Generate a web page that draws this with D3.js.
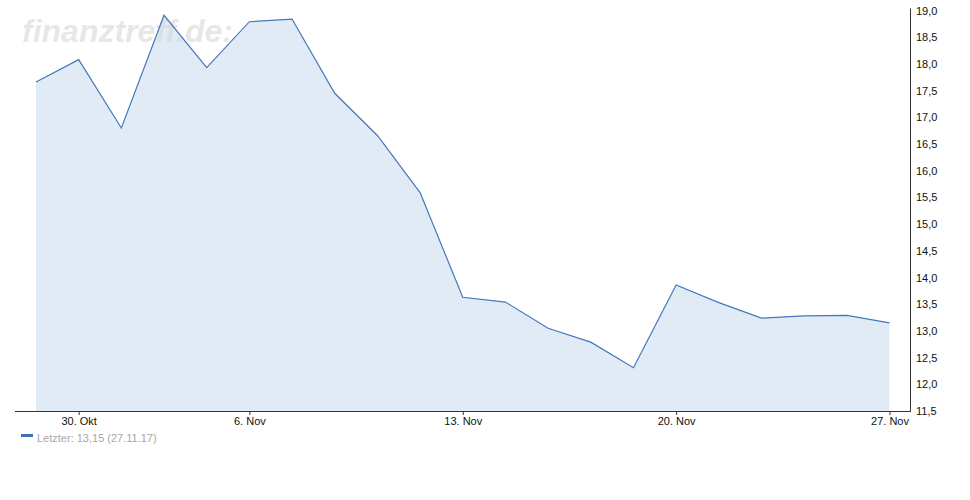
<!DOCTYPE html>
<html>
<head>
<meta charset="utf-8">
<script src="https://cdn.jsdelivr.net/npm/d3@7"></script>
<style>
  html, body { margin: 0; padding: 0; background: #fff; }
  svg { display: block; font-family: "Liberation Sans", Arial, sans-serif; }
</style>
</head>
<body>
<svg id="chart" width="970" height="500"></svg>
<script>
const dates = ["27.10.17","30.10.17","01.11.17","02.11.17","03.11.17","06.11.17","07.11.17","08.11.17","09.11.17","10.11.17",
               "13.11.17","14.11.17","15.11.17","16.11.17","17.11.17","20.11.17","21.11.17","22.11.17","23.11.17","24.11.17","27.11.17"];
const prices = [17.66, 18.08, 16.80, 18.91, 17.93, 18.79, 18.84, 17.45, 16.66, 15.59,
                13.63, 13.54, 13.05, 12.79, 12.31, 13.86, 13.53, 13.24, 13.28, 13.29, 13.15];
const xTickDates = ["30.10.17","06.11.17","13.11.17","20.11.17","27.11.17"];
const xTickLabels = ["30. Okt","6. Nov","13. Nov","20. Nov","27. Nov"];
const yTicks = [11.5, 12.0, 12.5, 13.0, 13.5, 14.0, 14.5, 15.0, 15.5, 16.0, 16.5, 17.0, 17.5, 18.0, 18.5, 19.0];
const legendLabel = "Letzter: 13,15 (27.11.17)";
const watermark = "finanztreff.de:";

const svg = d3.select("#chart");
const plotLeft = 15, plotRight = 910, plotTop = 10.5, plotBottom = 411;

const x = d3.scalePoint().domain(dates).range([36, 889.5]);
const y = d3.scaleLinear().domain([11.5, 19.0]).range([plotBottom, plotTop]);

const data = dates.map((d, i) => ({d, v: prices[i]}));

svg.append("path")
  .datum(data)
  .attr("fill", "#e0ebf6")
  .attr("d", d3.area().x(p => x(p.d)).y0(plotBottom).y1(p => y(p.v)));

// watermark (drawn over the area, under the line)
svg.append("text")
  .attr("x", 22).attr("y", 42)
  .attr("font-size", 32).attr("font-weight", "bold").attr("font-style", "italic")
  .attr("fill", "#d8d8d8").attr("fill-opacity", 0.6)
  .text(watermark);

svg.append("path")
  .datum(data)
  .attr("fill", "none")
  .attr("stroke", "#4478bb")
  .attr("stroke-width", 1.2)
  .attr("stroke-linejoin", "miter")
  .attr("d", d3.line().x(p => x(p.d)).y(p => y(p.v)));

// bottom axis
const xAxis = d3.axisBottom(x)
  .tickValues(xTickDates)
  .tickFormat(d => xTickLabels[xTickDates.indexOf(d)])
  .tickSize(4).tickSizeOuter(0);
const gx = svg.append("g").attr("transform", `translate(0,${plotBottom})`).call(xAxis);
gx.select(".domain").attr("d", `M${plotLeft},0.5H${plotRight}`).attr("stroke", "#333");
gx.selectAll(".tick line").attr("stroke", "#333");
gx.selectAll(".tick text").attr("font-size", 11).attr("fill", "#111").attr("font-family", "Liberation Sans, Arial, sans-serif").attr("dy", "0.6em");

// right axis
const yAxis = d3.axisRight(y)
  .tickValues(yTicks)
  .tickFormat(v => d3.format(".1f")(v).replace(".", ","))
  .tickSize(0).tickSizeOuter(0).tickPadding(6);
const gy = svg.append("g").attr("transform", `translate(${plotRight},0)`).call(yAxis);
gy.select(".domain").attr("stroke", "#333").attr("d", `M0.5,${plotTop - 2}V${plotBottom + 1}`);
gy.selectAll(".tick text").attr("font-size", 11).attr("fill", "#111").attr("font-family", "Liberation Sans, Arial, sans-serif");

// legend
svg.append("rect").attr("x", 21).attr("y", 434).attr("width", 12).attr("height", 3).attr("fill", "#3d72b6");
svg.append("text").attr("x", 37).attr("y", 442)
  .attr("font-size", 11).attr("fill", "#a8a8a8")
  .text(legendLabel);
</script>
</body>
</html>
